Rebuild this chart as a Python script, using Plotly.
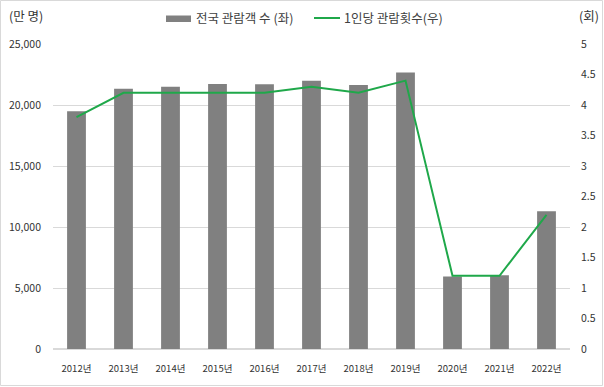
import plotly.graph_objects as go

years = ["2012년", "2013년", "2014년", "2015년", "2016년", "2017년", "2018년", "2019년", "2020년", "2021년", "2022년"]
audience = [19489, 21335, 21506, 21729, 21702, 21987, 21639, 22668, 5952, 6053, 11281]
per_capita = [3.8, 4.2, 4.2, 4.2, 4.2, 4.3, 4.2, 4.4, 1.2, 1.2, 2.2]
bar_name = "전국 관람객 수 (좌)"
line_name = "1인당 관람횟수(우)"

W, H = 604, 387
L, R, T, B = 53, 34, 44, 38
pw, ph = W - L - R, H - T - B

def px(x):
    return (x - L) / pw

def py(y):
    return (H - B - y) / ph

BAR_COLOR = "#808080"
LINE_COLOR = "#1FA84A"
font = "Noto Sans CJK KR, Malgun Gothic, sans-serif"

fig = go.Figure()
fig.add_trace(go.Bar(x=years, y=audience, name=bar_name,
                     marker=dict(color=BAR_COLOR, line=dict(width=0)), width=0.4))
fig.add_trace(go.Scatter(x=years, y=per_capita, name=line_name, yaxis="y2",
                         mode="lines", line=dict(color=LINE_COLOR, width=2)))

fig.update_layout(
    width=W, height=H, margin=dict(l=L, r=R, t=T, b=B, autoexpand=False),
    paper_bgcolor="white", plot_bgcolor="white",
    font=dict(family=font, size=11, color="#333333"),
    showlegend=False,
    xaxis=dict(showgrid=False, showline=False, ticks="", automargin=False, ticklabelstandoff=12,
               tickfont=dict(size=9.5, color="#333333")),
    yaxis=dict(range=[0, 25000], dtick=5000, tickformat=",", showgrid=True, gridcolor="#D9D9D9",
               zeroline=True, zerolinecolor="#D9D9D9", ticks="", ticklabelstandoff=11, automargin=False,
               tickfont=dict(size=10.5, color="#333333")),
    yaxis2=dict(range=[0, 5], dtick=0.5, overlaying="y", side="right", showgrid=False, automargin=False,
                zeroline=False, ticks="", tickfont=dict(size=10.5, color="#333333"), ticklabelstandoff=10),
    annotations=[
        dict(text="(만 명)", xref="paper", yref="paper", x=px(7), y=py(15),
             xanchor="left", yanchor="middle", showarrow=False, font=dict(size=12.5, color="#333333")),
        dict(text="(회)", xref="paper", yref="paper", x=px(577), y=py(15),
             xanchor="left", yanchor="middle", showarrow=False, font=dict(size=12.5, color="#333333")),
        dict(text=bar_name, xref="paper", yref="paper", x=px(194), y=py(18),
             xanchor="left", yanchor="middle", showarrow=False, font=dict(size=12.5, color="#404040")),
        dict(text=line_name, xref="paper", yref="paper", x=px(342), y=py(18),
             xanchor="left", yanchor="middle", showarrow=False, font=dict(size=12.5, color="#404040")),
    ],
    shapes=[
        dict(type="rect", xref="paper", yref="paper",
             x0=px(0.5), x1=px(W - 1.5), y0=py(H - 1.5), y1=py(0.5),
             line=dict(color="#D9D9D9", width=1), layer="below"),
        dict(type="rect", xref="paper", yref="paper",
             x0=px(166), x1=px(191), y0=py(22), y1=py(15.5),
             fillcolor=BAR_COLOR, line=dict(width=0)),
        dict(type="line", xref="paper", yref="paper",
             x0=px(314), x1=px(340), y0=py(18), y1=py(18),
             line=dict(color=LINE_COLOR, width=2)),
    ],
)
fig.write_html("out.html", config={"displayModeBar": False},
               post_script="document.body.style.margin='0';document.body.style.overflow='hidden';")
